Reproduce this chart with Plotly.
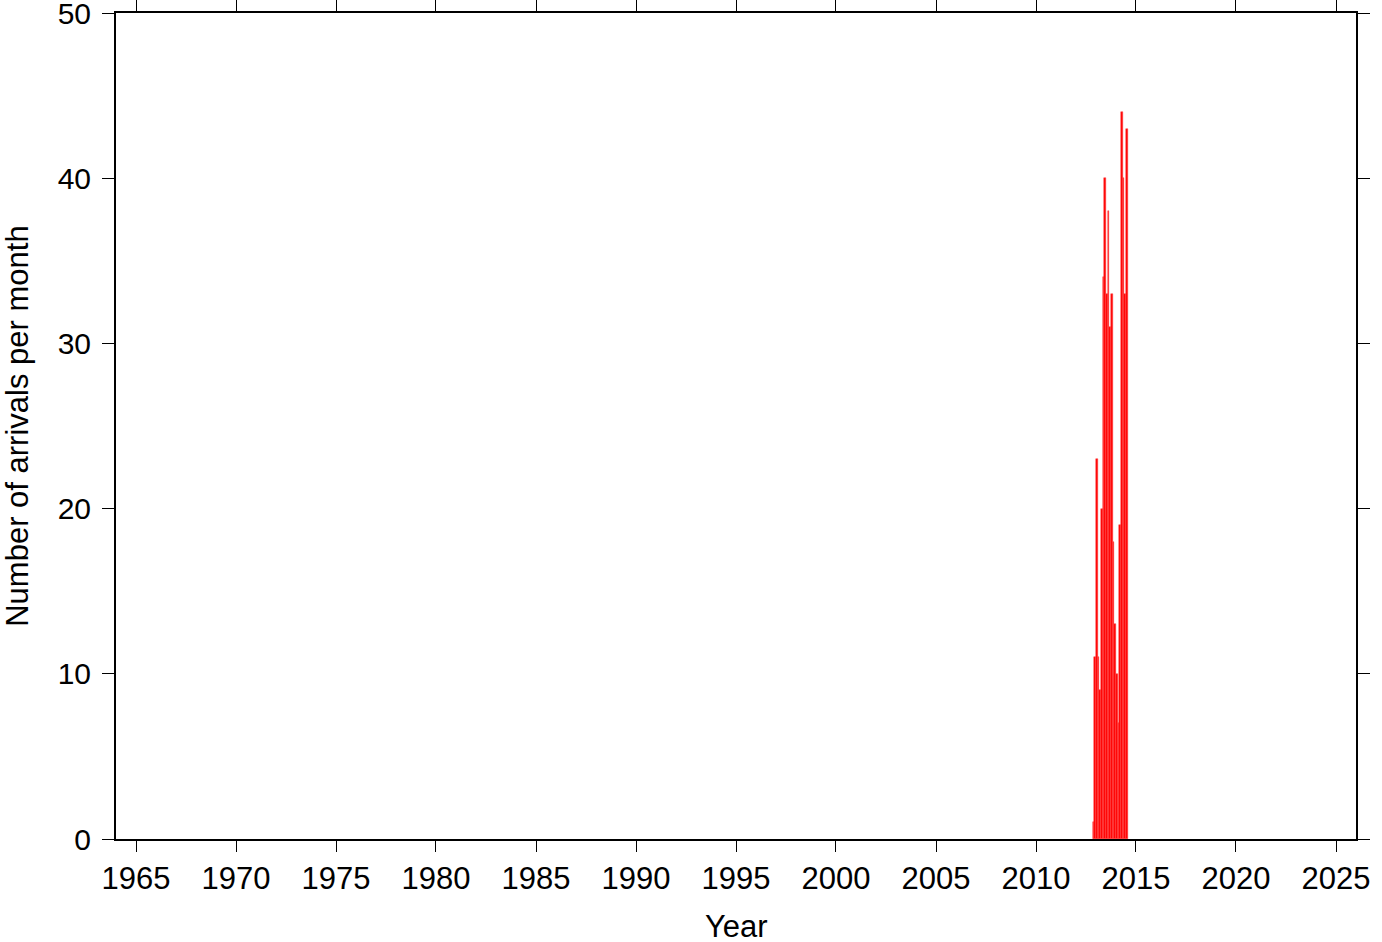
import plotly.graph_objects as go

months = ["2012-11", "2012-12", "2013-01", "2013-02", "2013-03", "2013-04",
          "2013-05", "2013-06", "2013-07", "2013-08", "2013-09", "2013-10",
          "2013-11", "2013-12", "2014-01", "2014-02", "2014-03", "2014-04",
          "2014-05", "2014-06", "2014-07"]
arrivals = [1, 11, 23, 11, 9, 20, 34, 40, 33, 38, 31, 33,
            18, 13, 10, 7, 19, 44, 40, 33, 43]

tick_years = ["1965", "1970", "1975", "1980", "1985", "1990", "1995",
              "2000", "2005", "2010", "2015", "2020", "2025"]

x_title = "Year"
y_title = "Number of arrivals per month"

FONT = "Liberation Sans, Arial, Helvetica, sans-serif"

fig = go.Figure()
fig.add_trace(go.Bar(
    x=[m + "-01" for m in months],
    y=arrivals,
    xperiod="M1",
    xperiodalignment="middle",
    marker=dict(color="#ff0000", line=dict(color="#ff4040", width=0.5)),
    width=[0.95 * 30 * 86400000] * len(months),
))

fig.update_layout(
    width=1382, height=942,
    margin=dict(l=116, r=26, t=13, b=103),
    plot_bgcolor="white", paper_bgcolor="white",
    showlegend=False,
    font=dict(family=FONT, size=31, color="black"),
    bargap=0,
    annotations=[
        dict(text=x_title, xref="paper", yref="paper", x=0.5, y=-0.1065,
             xanchor="center", yanchor="middle", showarrow=False,
             font=dict(size=31)),
        dict(text=y_title, xref="paper", yref="paper", x=-0.0800, y=0.5,
             xanchor="center", yanchor="middle", showarrow=False,
             textangle=-90, font=dict(size=31)),
    ],
)
fig.update_xaxes(
    type="date",
    range=["1964-01-01", "2026-01-01"],
    tickvals=[y + "-01-01" for y in tick_years],
    ticktext=tick_years,
    ticks="outside", ticklen=11, tickwidth=1, tickcolor="black",
    showline=True, linewidth=2, linecolor="black", mirror="ticks",
    showgrid=False, zeroline=False, automargin=False,
    ticklabeloverflow="allow",
    tickfont=dict(size=31),
)
fig.update_yaxes(
    range=[0, 50], dtick=10, tick0=0,
    ticks="outside", ticklen=12, tickwidth=1, tickcolor="black",
    showline=True, linewidth=2, linecolor="black", mirror="ticks",
    showgrid=False, zeroline=False, automargin=False,
    ticklabeloverflow="allow",
    tickfont=dict(size=30), ticklabelstandoff=5,
)

fig.write_html("out.html", config={"displayModeBar": False},
               post_script="document.body.style.margin='0';")
